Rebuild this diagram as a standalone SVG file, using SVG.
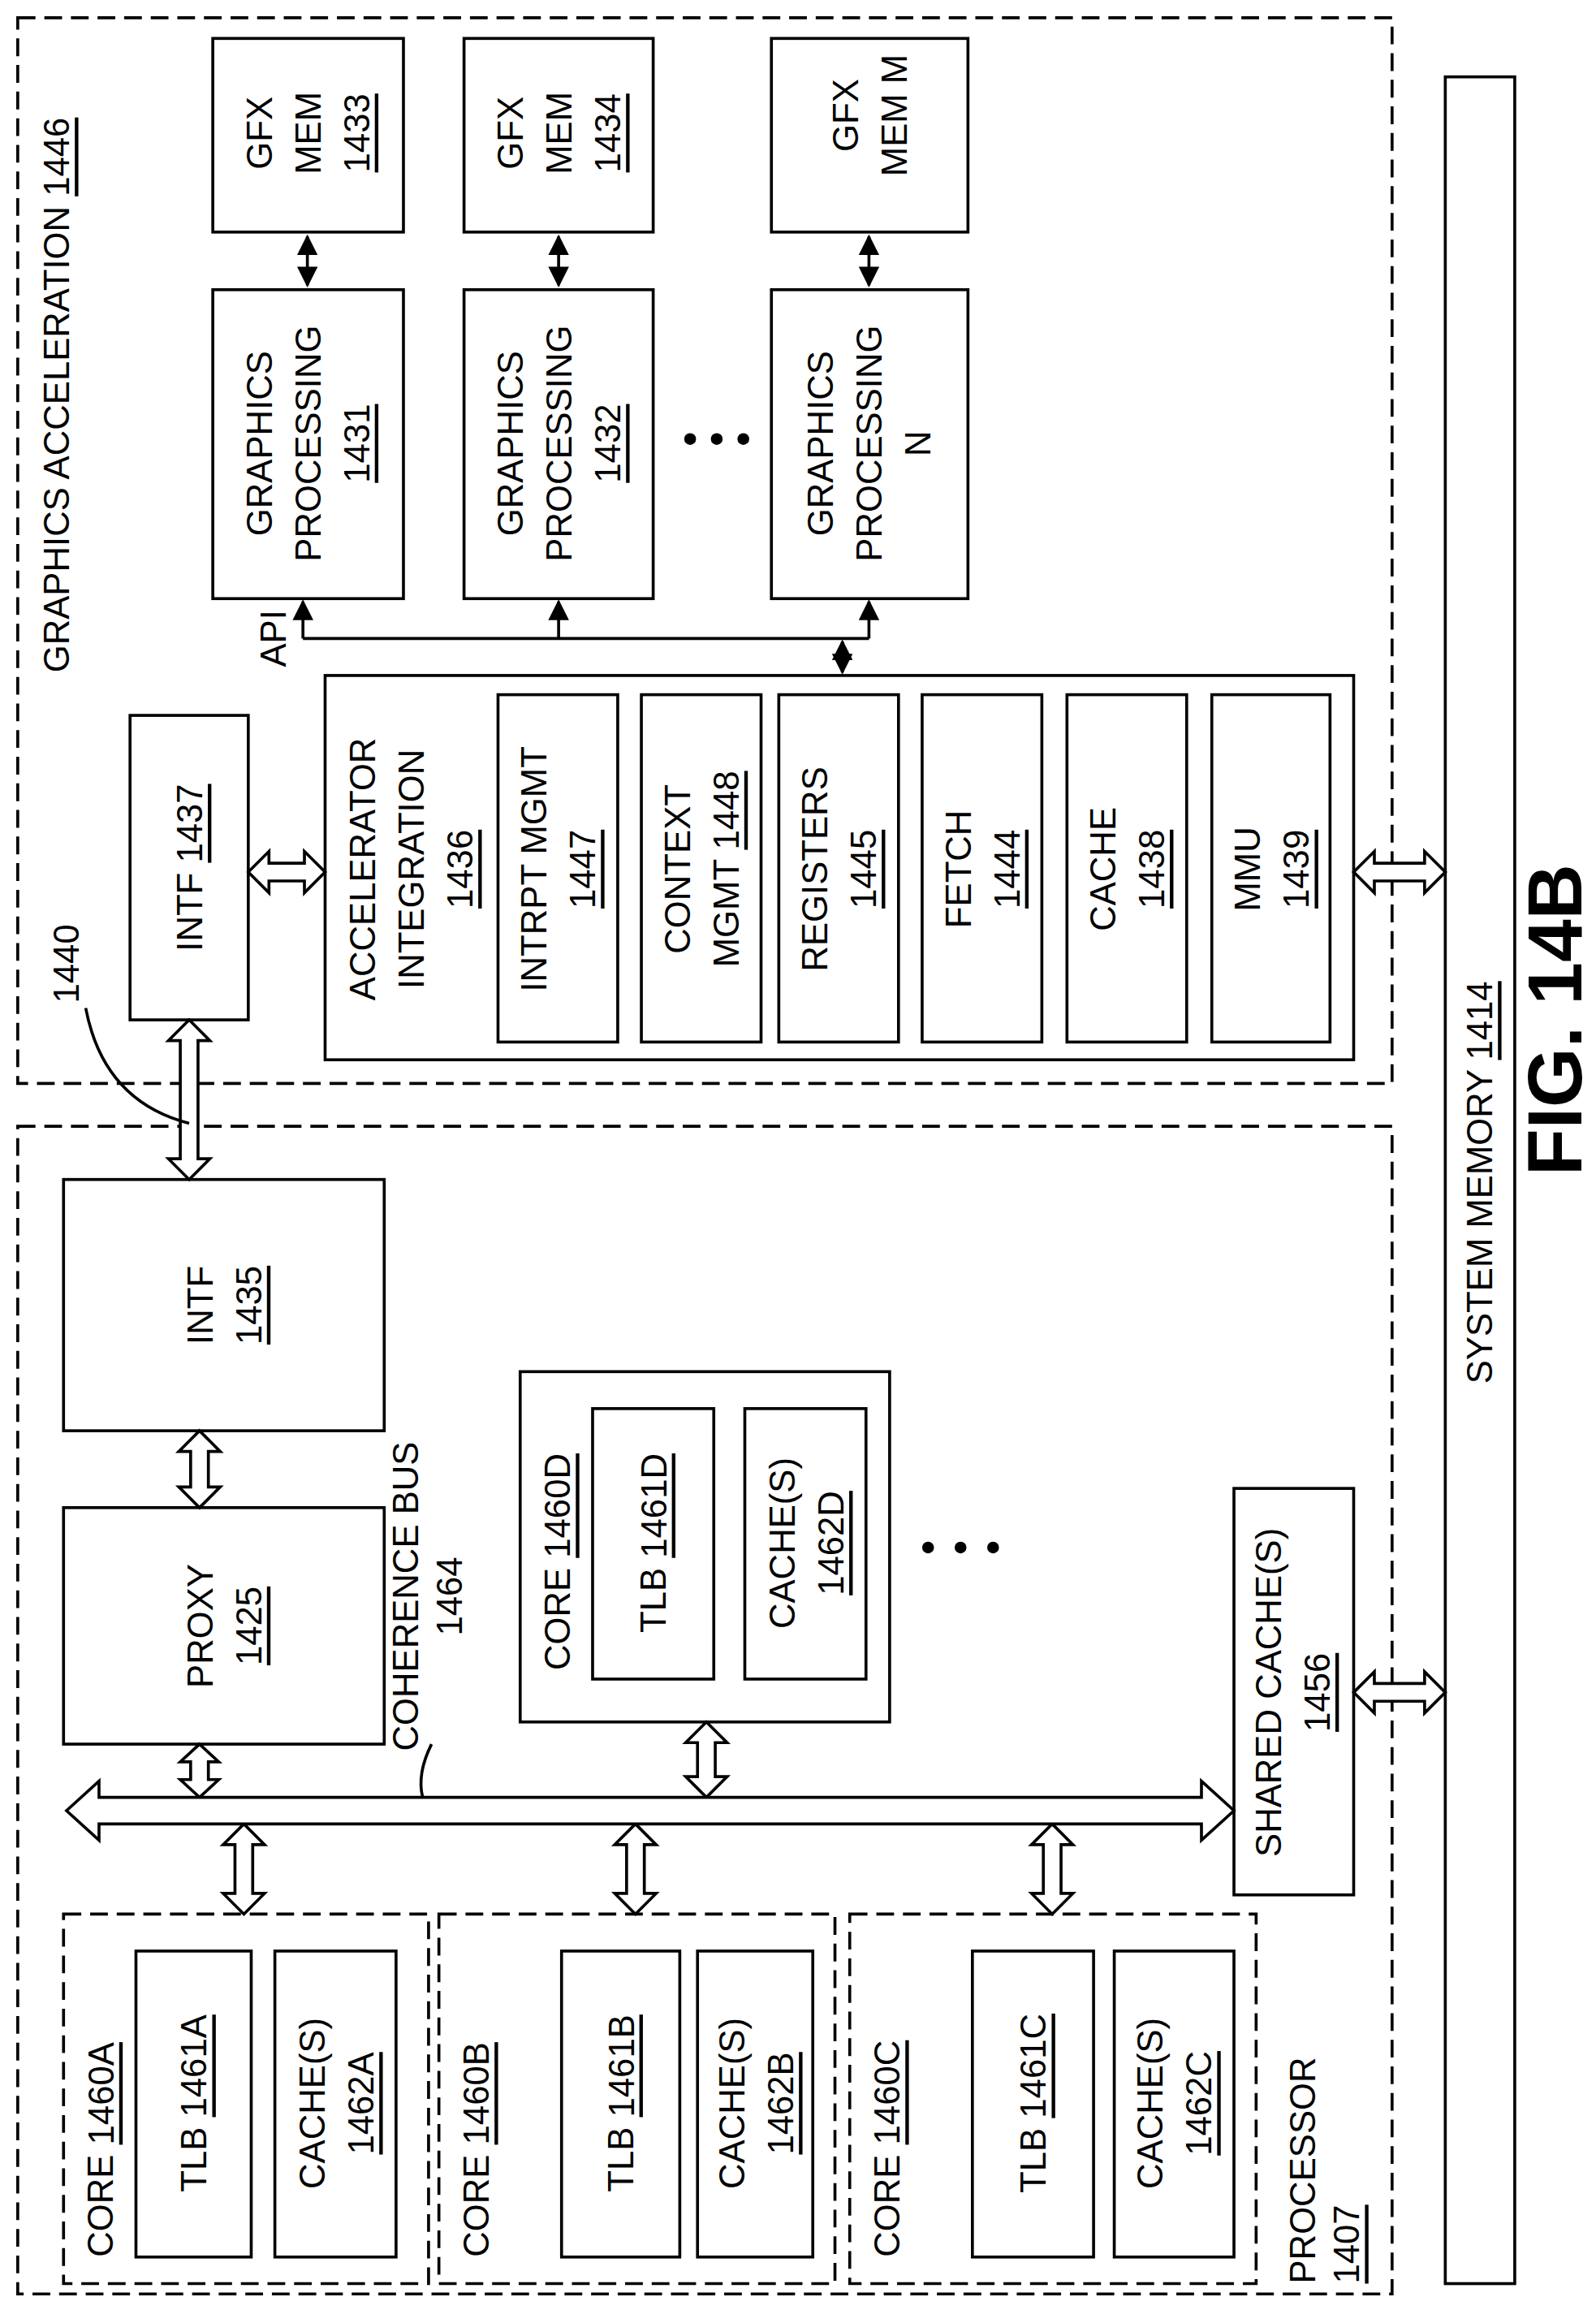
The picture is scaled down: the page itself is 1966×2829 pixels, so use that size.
<svg xmlns="http://www.w3.org/2000/svg" width="1966" height="2829" viewBox="0 0 1966 2829">
<style>
text{font-family:"Liberation Sans",Arial,sans-serif;font-size:24px;fill:#000;dominant-baseline:central}
.c{text-anchor:middle}
.s{text-anchor:start}
.u{text-decoration:underline}
.b{fill:#fff;stroke:#000;stroke-width:2}
.d{fill:none;stroke:#000;stroke-width:2;stroke-dasharray:12 6}
.h{fill:#fff;stroke:#000;stroke-width:2;stroke-linejoin:miter}
.l{fill:none;stroke:#000;stroke-width:2}
</style>
<defs>
<marker id="a" viewBox="0 0 10 10" refX="9" refY="5" markerWidth="7" markerHeight="7" orient="auto-start-reverse"><path d="M0,0L10,5L0,10z" fill="#000"/></marker>
</defs>
<rect width="1966" height="2829" fill="#fff"/>
<g transform="scale(1.8204)">
<g id="graphics-acceleration"><rect class="d" x="12" y="12" width="930" height="721"/>
<text class="s" transform="translate(38 455) rotate(-90)">GRAPHICS ACCELERATION <tspan class="u">1446</tspan></text></g>
<g id="processor"><rect class="d" x="12" y="762" width="930" height="790"/>
<text class="s" transform="translate(895 1545) rotate(-90)"><tspan x="0" dy="-14">PROCESSOR</tspan><tspan x="0" dy="30" class="u">1407</tspan></text></g>
<g id="system-memory"><rect class="b" x="978" y="52" width="47" height="1493"/>
<text class="c" transform="translate(1001 800) rotate(-90)">SYSTEM MEMORY <tspan class="u">1414</tspan></text></g>
<text class="c" transform="translate(1052 690) rotate(-90)" style="font-size:52px;font-weight:bold">FIG. 14B</text>

<g id="gfxmem1433"><rect class="b" x="144" y="26" width="129" height="131"/><text class="c" transform="translate(208 90) rotate(-90)"><tspan x="0" dy="-33">GFX</tspan><tspan x="0" dy="33">MEM</tspan><tspan x="0" dy="33" class="u">1433</tspan></text></g>
<g id="gfxmem1434"><rect class="b" x="314" y="26" width="128" height="131"/><text class="c" transform="translate(378 90) rotate(-90)"><tspan x="0" dy="-33">GFX</tspan><tspan x="0" dy="33">MEM</tspan><tspan x="0" dy="33" class="u">1434</tspan></text></g>
<g id="gfxmemM"><rect class="b" x="522" y="26" width="133" height="131"/><text class="c" transform="translate(588 78) rotate(-90)"><tspan x="0" dy="-16">GFX</tspan><tspan x="0" dy="33">MEM M</tspan></text></g>
<g id="gp1431"><rect class="b" x="144" y="196" width="129" height="209"/><text class="c" transform="translate(208 300) rotate(-90)"><tspan x="0" dy="-33">GRAPHICS</tspan><tspan x="0" dy="33">PROCESSING</tspan><tspan x="0" dy="33" class="u">1431</tspan></text></g>
<g id="gp1432"><rect class="b" x="314" y="196" width="128" height="209"/><text class="c" transform="translate(378 300) rotate(-90)"><tspan x="0" dy="-33">GRAPHICS</tspan><tspan x="0" dy="33">PROCESSING</tspan><tspan x="0" dy="33" class="u">1432</tspan></text></g>
<g id="gpN"><rect class="b" x="522" y="196" width="133" height="209"/><text class="c" transform="translate(588 300) rotate(-90)"><tspan x="0" dy="-33">GRAPHICS</tspan><tspan x="0" dy="33">PROCESSING</tspan><tspan x="0" dy="33">N</tspan></text></g>
<g id="dots1"><circle cx="467" cy="297" r="4"/><circle cx="485" cy="297" r="4"/><circle cx="503" cy="297" r="4"/></g>

<g id="intf1437"><rect class="b" x="88" y="484" width="80" height="206"/><text class="c" transform="translate(128 587) rotate(-90)">INTF <tspan class="u">1437</tspan></text></g>
<g id="accel1436"><rect class="b" x="220" y="457" width="696" height="260"/>
<text class="c" transform="translate(262 588) rotate(-90)"><tspan x="0" dy="-17">ACCELERATOR</tspan><tspan x="0" dy="33">INTEGRATION</tspan><tspan x="0" dy="33" class="u">1436</tspan></text></g>
<g id="intrpt1447"><rect class="b" x="337" y="470" width="81" height="235"/><text class="c" transform="translate(377 588) rotate(-90)"><tspan x="0" dy="-16">INTRPT MGMT</tspan><tspan x="0" dy="33" class="u">1447</tspan></text></g>
<g id="context1448"><rect class="b" x="434" y="470" width="81" height="235"/><text class="c" transform="translate(474 588) rotate(-90)"><tspan x="0" dy="-16">CONTEXT</tspan><tspan x="0" dy="33">MGMT <tspan class="u">1448</tspan></tspan></text></g>
<g id="registers1445"><rect class="b" x="527" y="470" width="81" height="235"/><text class="c" transform="translate(567 588) rotate(-90)"><tspan x="0" dy="-16">REGISTERS</tspan><tspan x="0" dy="33" class="u">1445</tspan></text></g>
<g id="fetch1444"><rect class="b" x="624" y="470" width="81" height="235"/><text class="c" transform="translate(664 588) rotate(-90)"><tspan x="0" dy="-16">FETCH</tspan><tspan x="0" dy="33" class="u">1444</tspan></text></g>
<g id="cache1438"><rect class="b" x="722" y="470" width="81" height="235"/><text class="c" transform="translate(762 588) rotate(-90)"><tspan x="0" dy="-16">CACHE</tspan><tspan x="0" dy="33" class="u">1438</tspan></text></g>
<g id="mmu1439"><rect class="b" x="820" y="470" width="80" height="235"/><text class="c" transform="translate(860 588) rotate(-90)"><tspan x="0" dy="-16">MMU</tspan><tspan x="0" dy="33" class="u">1439</tspan></text></g>

<g id="intf1435"><rect class="b" x="43" y="798" width="217" height="170"/><text class="c" transform="translate(151 883) rotate(-90)"><tspan x="0" dy="-16">INTF</tspan><tspan x="0" dy="33" class="u">1435</tspan></text></g>
<g id="proxy1425"><rect class="b" x="43" y="1020" width="217" height="160"/><text class="c" transform="translate(151 1100) rotate(-90)"><tspan x="0" dy="-16">PROXY</tspan><tspan x="0" dy="33" class="u">1425</tspan></text></g>
<g id="core1460D"><rect class="b" x="352" y="928" width="250" height="237"/>
<text class="s" transform="translate(377 1130) rotate(-90)">CORE <tspan class="u">1460D</tspan></text>
<rect class="b" x="401" y="953" width="82" height="183"/><text class="c" transform="translate(442 1044) rotate(-90)">TLB <tspan class="u">1461D</tspan></text>
<rect class="b" x="504" y="953" width="82" height="183"/><text class="c" transform="translate(545 1044) rotate(-90)"><tspan x="0" dy="-16">CACHE(S)</tspan><tspan x="0" dy="33" class="u">1462D</tspan></text></g>
<g id="dots2"><circle cx="628" cy="1047" r="4"/><circle cx="650" cy="1047" r="4"/><circle cx="672" cy="1047" r="4"/></g>
<g id="shared1456"><rect class="b" x="835" y="1007" width="81" height="275"/><text class="c" transform="translate(874 1145) rotate(-90)"><tspan x="0" dy="-16">SHARED CACHE(S)</tspan><tspan x="0" dy="33" class="u">1456</tspan></text></g>
<text class="c" transform="translate(288 1080) rotate(-90)"><tspan x="0" dy="-14">COHERENCE BUS</tspan><tspan x="0" dy="30">1464</tspan></text>

<g id="core1460A"><rect class="d" x="43" y="1295" width="247" height="250"/>
<text class="s" transform="translate(68 1527) rotate(-90)">CORE <tspan class="u">1460A</tspan></text>
<rect class="b" x="92" y="1320" width="78" height="207"/><text class="c" transform="translate(131 1423) rotate(-90)">TLB <tspan class="u">1461A</tspan></text>
<rect class="b" x="186" y="1320" width="82" height="207"/><text class="c" transform="translate(227 1423) rotate(-90)"><tspan x="0" dy="-16">CACHE(S)</tspan><tspan x="0" dy="33" class="u">1462A</tspan></text></g>
<g id="core1460B"><rect class="d" x="297" y="1295" width="268" height="250"/>
<text class="s" transform="translate(322 1527) rotate(-90)">CORE <tspan class="u">1460B</tspan></text>
<rect class="b" x="380" y="1320" width="80" height="207"/><text class="c" transform="translate(420 1423) rotate(-90)">TLB <tspan class="u">1461B</tspan></text>
<rect class="b" x="472" y="1320" width="78" height="207"/><text class="c" transform="translate(511 1423) rotate(-90)"><tspan x="0" dy="-16">CACHE(S)</tspan><tspan x="0" dy="33" class="u">1462B</tspan></text></g>
<g id="core1460C"><rect class="d" x="575" y="1295" width="275" height="250"/>
<text class="s" transform="translate(600 1527) rotate(-90)">CORE <tspan class="u">1460C</tspan></text>
<rect class="b" x="658" y="1320" width="82" height="207"/><text class="c" transform="translate(699 1423) rotate(-90)">TLB <tspan class="u">1461C</tspan></text>
<rect class="b" x="754" y="1320" width="81" height="207"/><text class="c" transform="translate(794 1423) rotate(-90)"><tspan x="0" dy="-16">CACHE(S)</tspan><tspan x="0" dy="33" class="u">1462C</tspan></text></g>

<g id="connectors">
<line class="l" x1="208" y1="160" x2="208" y2="193" marker-start="url(#a)" marker-end="url(#a)"/>
<line class="l" x1="378" y1="160" x2="378" y2="193" marker-start="url(#a)" marker-end="url(#a)"/>
<line class="l" x1="588" y1="160" x2="588" y2="193" marker-start="url(#a)" marker-end="url(#a)"/>
<polyline class="l" points="205,432 588,432"/>
<line class="l" x1="205" y1="432" x2="205" y2="407" marker-end="url(#a)"/>
<line class="l" x1="378" y1="432" x2="378" y2="407" marker-end="url(#a)"/>
<line class="l" x1="588" y1="432" x2="588" y2="407" marker-end="url(#a)"/>
<line class="l" x1="570" y1="434" x2="570" y2="455" marker-start="url(#a)" marker-end="url(#a)"/>
<text class="c" transform="translate(185 432) rotate(-90)">API</text>
<polygon class="h" points="168,590 182,576 182,584 206,584 206,576 220,590 206,604 206,596 182,596 182,604"/>
<polygon class="h" points="916,590 930,576 930,584 964,584 964,576 978,590 964,604 964,596 930,596 930,604"/>
<polygon class="h" points="916,1145 930,1131 930,1139 964,1139 964,1131 978,1145 964,1159 964,1151 930,1151 930,1159"/>
<polygon class="h" points="128,690 142,704 134,704 134,784 142,784 128,798 114,784 122,784 122,704 114,704"/>
<polygon class="h" points="135,968 149,982 141,982 141,1006 149,1006 135,1020 121,1006 129,1006 129,982 121,982"/>
<polygon class="h" points="135,1180 148,1192 141,1192 141,1204 148,1204 135,1216 122,1204 129,1204 129,1192 122,1192"/>
<polygon class="h" points="478,1165 492,1179 484,1179 484,1202 492,1202 478,1216 464,1202 472,1202 472,1179 464,1179"/>
<polygon class="h" points="165,1234 179,1248 171,1248 171,1281 179,1281 165,1295 151,1281 159,1281 159,1248 151,1248"/>
<polygon class="h" points="430,1234 444,1248 436,1248 436,1281 444,1281 430,1295 416,1281 424,1281 424,1248 416,1248"/>
<polygon class="h" points="712,1234 726,1248 718,1248 718,1281 726,1281 712,1295 698,1281 706,1281 706,1248 698,1248"/>
<polygon class="h" points="45,1225 67,1205 67,1216 813,1216 813,1205 835,1225 813,1245 813,1234 67,1234 67,1245"/>
<path class="l" d="M292,1180 Q282,1200 286,1216"/>
<text class="c" transform="translate(45 652) rotate(-90)">1440</text>
<path class="l" d="M58,682 Q70,745 128,760"/>
</g>
</g>
</svg>
